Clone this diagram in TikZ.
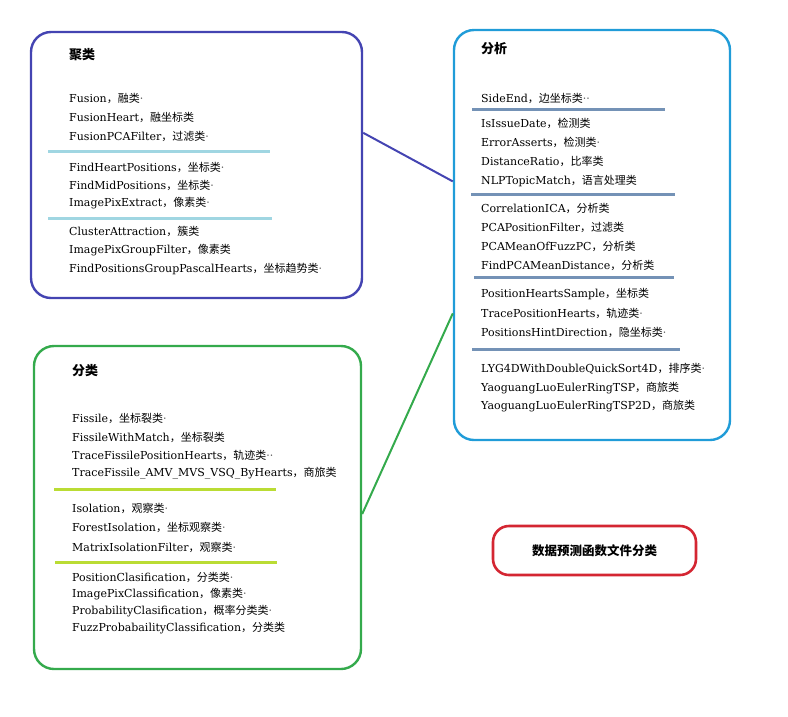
\documentclass[tikz,border=0pt]{standalone}
\usepackage{fontspec}
\setmainfont{DejaVu Serif}
\newfontfamily\cjk{Noto Sans CJK SC}
\newfontfamily\latin{DejaVu Serif}
\usetikzlibrary{calc}
\definecolor{cluline}{RGB}{68,68,178}
\definecolor{analine}{RGB}{32,156,216}
\definecolor{clsline}{RGB}{52,170,76}
\definecolor{noteline}{RGB}{212,38,50}
\definecolor{sepclu}{RGB}{160,214,226}
\definecolor{sepana}{RGB}{116,146,182}
\definecolor{sepcls}{RGB}{186,220,52}
\newcommand{\entry}[2]{#1{\cjk ，#2}}
\newcommand{\dt}{{\latin\color{black!70}·}}

\begin{document}
\begin{tikzpicture}
    [x=1pt,y=-1pt,
    frame/.style={draw=#1,line width=2.4pt,rounded corners=20pt,fill=white},
    title/.style={anchor=west,inner sep=0pt,font=\cjk\bfseries\fontsize{13}{15}\selectfont},
    item/.style={anchor=west,inner sep=0pt,font=\fontsize{11}{13}\selectfont},
    sep/.style={draw=#1,line width=3pt},
    link/.style={draw=#1,line width=2pt},
    ]
    \useasboundingbox (0,0) rectangle (788,716);
    % the three groups
    \node[frame=cluline, minimum width=331pt, minimum height=266pt] (clu) at (196.5,165) {};
    \node[frame=analine, minimum width=276pt, minimum height=410pt] (ana) at (592,235) {};
    \node[frame=clsline, minimum width=327pt, minimum height=323pt] (cls) at (197.5,507.5) {};
    % links
    \draw[link=cluline] ($(clu.north east)!0.38!(clu.south east)$) -- ($(ana.north west)!0.37!(ana.south west)$);
    \draw[link=clsline] ($(cls.north east)!0.52!(cls.south east)$) -- ($(ana.north west)!0.69!(ana.south west)$);
    % titles
    \node[title] (clu-t) at (69,55) {聚类};
    \node[title] (ana-t) at (481,49) {分析};
    \node[title] (cls-t) at (72,371) {分类};
    % cluster entries
    \foreach \y/\a/\b [count=\i] in {98/Fusion/融类\dt, 117/FusionHeart/融坐标类, 136/FusionPCAFilter/过滤类\dt,
        167/FindHeartPositions/坐标类\dt, 185/FindMidPositions/坐标类\dt, 203/ImagePixExtract/像素类\dt,
        231/ClusterAttraction/簇类, 250/ImagePixGroupFilter/像素类, 269/FindPositionsGroupPascalHearts/坐标趋势类\dt}
        \node[item] (clu-\i) at (69,\y) {\entry{\a}{\b}};
    \draw[sep=sepclu] (48,151) -- (270,151);
    \draw[sep=sepclu] (48,218) -- (272,218);
    % analysis entries
    \foreach \y/\a/\b [count=\i] in {98/SideEnd/边坐标类\dt\dt,
        123/IsIssueDate/检测类, 142/ErrorAsserts/检测类\dt, 161/DistanceRatio/比率类, 181/NLPTopicMatch/语言处理类,
        208/CorrelationICA/分析类, 227/PCAPositionFilter/过滤类, 246/PCAMeanOfFuzzPC/分析类, 265/FindPCAMeanDistance/分析类,
        294/PositionHeartsSample/坐标类, 313/TracePositionHearts/轨迹类\dt, 332/PositionsHintDirection/隐坐标类\dt,
        369/LYG4DWithDoubleQuickSort4D/排序类\dt, 388/YaoguangLuoEulerRingTSP/商旅类, 406/YaoguangLuoEulerRingTSP2D/商旅类}
        \node[item] (ana-\i) at (481,\y) {\entry{\a}{\b}};
    \draw[sep=sepana] (472,109) -- (665,109);
    \draw[sep=sepana] (471,194) -- (675,194);
    \draw[sep=sepana] (474,277) -- (674,277);
    \draw[sep=sepana] (472,349) -- (680,349);
    % classification entries
    \foreach \y/\a/\b [count=\i] in {418/Fissile/坐标裂类\dt, 437/FissileWithMatch/坐标裂类, 455/TraceFissilePositionHearts/轨迹类\dt\dt,
        473/TraceFissile\_AMV\_MVS\_VSQ\_ByHearts/商旅类,
        508/Isolation/观察类\dt, 527/ForestIsolation/坐标观察类\dt, 547/MatrixIsolationFilter/观察类\dt,
        577/PositionClasification/分类类\dt, 594/ImagePixClassification/像素类\dt, 611/ProbabilityClasification/概率分类类\dt,
        628/FuzzProbabailityClassification/分类类}
        \node[item] (cls-\i) at (72,\y) {\entry{\a}{\b}};
    \draw[sep=sepcls] (54,489) -- (276,489);
    \draw[sep=sepcls] (55,562) -- (277,562);
    % caption
    \node[frame=noteline, line width=2.6pt, rounded corners=16pt, minimum width=203pt, minimum height=49pt,
        font=\cjk\bfseries\fontsize{12.5}{14}\selectfont] (note) at (594.5,550.5) {数据预测函数文件分类};
\end{tikzpicture}
\end{document}
